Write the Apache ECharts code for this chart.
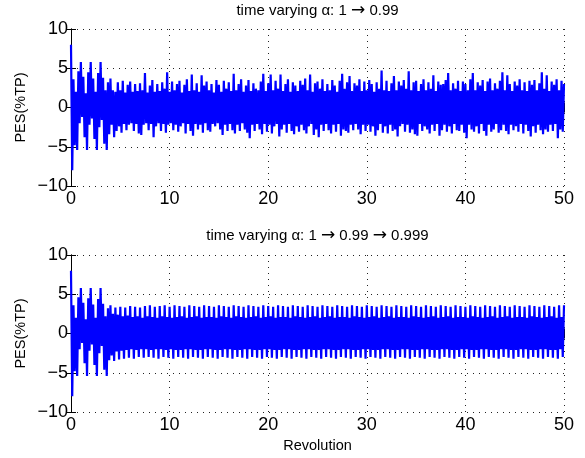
<!DOCTYPE html>
<html>
<head>
<meta charset="utf-8">
<script src="https://cdn.jsdelivr.net/npm/echarts@6/dist/echarts.min.js"></script>
<style>html,body{margin:0;padding:0;background:#fff}#c{width:585px;height:458px}</style>
</head>
<body>
<div id="c"></div>
<script>
// Sample step (revolutions) between successive upper peaks; lower peaks sit half a step later
const STEP = 0.25;
const xTicks = [0, 10, 20, 30, 40, 50];
const yTicks = [-10, -5, 0, 5, 10];
const titleParts = [['time varying \u03b1: 1 ', ' 0.99'], ['time varying \u03b1: 1 ', ' 0.99 ', ' 0.999']];
const yLabel = 'PES(%TP)';
const xLabel = 'Revolution';

// Top panel: upper peaks (t = 0, 0.25, ... 50)
const topHi = [
 8.0,3.6,2.0,4.6, 5.8,3.9,1.8,4.5, 5.8,3.7,2.0,4.4, 5.8,3.8,2.2,3.2,
 3.7,2.2,2.0,3.2, 2.2,3.4,1.9,2.9, 3.3,2.0,3.0,2.1, 3.1,2.2,4.4,1.9,
 2.8,3.5,2.0,3.0, 2.1,3.2,2.4,4.5, 2.0,3.3,2.2,3.0, 3.4,1.9,2.9,3.6,
 2.1,4.2,2.2,3.1, 2.0,4.1,2.8,3.3, 2.2,3.0,1.9,3.5, 2.9,2.0,3.4,2.4,
 3.2,2.1,4.3,2.2, 3.0,3.6,2.0,2.8, 3.5,2.1,3.1,2.4, 2.2,3.3,4.3,2.1,
 3.1,4.2,2.2,3.4, 2.4,4.2,2.1,3.0, 3.6,2.0,3.2,2.8, 2.1,3.4,2.9,3.7,
 2.2,4.2,2.0,3.1, 3.3,2.4,3.6,2.1, 3.0,2.2,3.5,2.8, 2.0,3.4,4.3,2.4,
 3.2,4.0,2.1,3.1, 2.8,3.6,2.1,3.3, 2.2,3.5,3.0,2.0, 3.2,2.4,4.7,2.2,
 3.4,2.1,3.1,4.0, 2.2,3.3,2.8,3.5, 2.4,4.6,2.2,3.2, 3.4,2.1,3.0,3.6,
 2.2,3.2,2.4,4.1, 2.1,3.3,2.9,3.0, 3.5,4.4,2.2,3.1, 2.4,3.4,2.1,3.3,
 3.0,2.2,3.6,4.4, 2.2,3.2,2.8,3.5, 2.1,3.3,3.7,2.2, 3.1,2.4,3.4,4.5,
 2.2,4.1,3.0,2.1, 3.3,2.8,3.6,2.2, 3.2,2.1,3.4,2.9, 3.5,2.2,3.1,4.5,
 2.4,4.1,2.1,3.3, 2.9,3.6,2.2,3.4, 3.0
];
// Top panel: lower peaks (t = 0.125, 0.375, ... 49.875)
const topLo = [
 -8.0,-4.8,-5.4,-2.0, -1.2,-3.8,-5.4,-2.2, -1.4,-4.0,-5.4,-2.5, -1.6,-4.6,-5.4,-3.4,
 -2.2,-3.8,-3.0,-2.4, -3.2,-2.1,-2.9,-2.2, -2.0,-3.0,-2.1,-3.3, -3.5,-2.2,-2.0,-2.9,
 -2.1,-3.8,-2.4,-2.0, -3.0,-2.1,-3.2,-2.2, -2.0,-2.9,-2.2,-3.1, -2.4,-2.0,-3.3,-2.1,
 -3.0,-3.6,-2.1,-2.8, -2.2,-3.2,-2.0,-2.9, -3.1,-2.1,-2.4,-2.0, -2.8,-3.5,-2.2,-3.0,
 -2.1,-2.9,-3.3,-2.2, -3.0,-2.0,-2.8,-3.2, -3.9,-2.2,-3.0,-2.1, -2.8,-3.4,-2.1,-3.1,
 -2.2,-3.3,-2.4,-2.1, -3.7,-2.8,-2.2,-3.2, -2.1,-3.0,-3.4,-2.4, -3.1,-2.2,-2.9,-3.3,
 -2.4,-2.1,-3.5,-2.8, -3.8,-2.2,-3.0,-2.1, -2.9,-3.3,-2.2,-3.1, -2.1,-3.6,-2.8,-3.0,
 -3.2,-2.2,-2.9,-2.1, -2.8,-3.4,-2.2,-3.0, -2.2,-3.1,-2.4,-3.6, -2.9,-2.1,-3.2,-2.4,
 -3.3,-2.2,-3.0,-2.8, -3.7,-2.4,-2.1,-3.1, -2.2,-3.2,-2.8,-3.4, -3.6,-2.1,-3.0,-2.4,
 -2.8,-3.3,-2.2,-3.0, -2.1,-3.6,-2.9,-2.2, -3.1,-2.4,-3.3,-2.1, -2.9,-3.0,-2.2,-3.2,
 -3.9,-2.2,-2.8,-3.1, -2.4,-3.3,-2.1,-3.0, -3.6,-2.2,-3.1,-2.8, -2.1,-3.2,-2.9,-2.2,
 -3.0,-3.4,-2.2,-2.9, -2.4,-3.1,-2.1,-3.3, -2.2,-3.0,-3.7,-2.4, -3.2,-2.2,-2.9,-3.4,
 -2.8,-3.1,-2.2,-3.0, -2.1,-3.9,-2.8,-3.1
];
// Bottom panel: upper peaks (t = 0, 0.25, ... 50)
const botHi = [
 8.0,3.6,2.0,4.6, 5.8,3.9,1.8,4.5, 5.8,3.7,2.0,4.4, 5.8,3.8,2.2,3.2,
 3.6,2.5,3.3,2.4, 3.4,2.2,3.3,2.3, 3.5,2.1,3.4,2.2, 3.3,2.0,3.5,2.2,
 3.6,2.1,3.4,2.0, 3.5,2.2,3.6,2.1, 3.4,2.0,3.6,2.1, 3.5,2.2,3.4,2.0,
 3.6,2.1,3.5,2.2, 3.4,2.0,3.6,2.1, 3.5,2.1,3.4,2.0, 3.6,2.2,3.5,2.1,
 3.4,2.0,3.6,2.2, 3.5,2.1,3.4,2.0, 3.6,2.1,3.5,2.2, 3.4,2.0,3.6,2.1,
 3.5,2.2,3.4,2.0, 3.6,2.1,3.5,2.1, 3.4,2.0,3.6,2.2, 3.5,2.1,3.4,2.0,
 3.6,2.1,3.5,2.2, 3.4,2.0,3.6,2.1, 3.5,2.2,3.4,2.0, 3.6,2.1,3.5,2.1,
 3.4,2.0,3.6,2.2, 3.5,2.1,3.4,2.0, 3.6,2.1,3.5,2.2, 3.4,2.0,3.6,2.1,
 3.5,2.2,3.4,2.0, 3.6,2.1,3.5,2.1, 3.4,2.0,3.6,2.2, 3.5,2.1,3.4,2.0,
 3.6,2.1,3.5,2.2, 3.4,2.0,3.6,2.1, 3.5,2.2,3.4,2.0, 3.6,2.1,3.5,2.1,
 3.4,2.0,3.6,2.2, 3.5,2.1,3.4,2.0, 3.6,2.1,3.5,2.2, 3.4,2.0,3.6,2.1,
 3.5,2.2,3.4,2.0, 3.6,2.1,3.5,2.1, 3.4,2.0,3.6,2.2, 3.5,2.1,3.4,2.0,
 3.6,2.1,3.5,2.2, 3.4,2.0,3.6,2.1, 3.6
];
// Bottom panel: lower peaks (t = 0.125, 0.375, ... 49.875)
const botLo = [
 -8.0,-4.8,-5.4,-2.0, -1.2,-3.8,-5.4,-2.2, -1.4,-4.0,-5.4,-2.5, -1.6,-4.6,-5.4,-3.4,
 -2.8,-3.5,-2.3,-3.3, -2.2,-3.2,-2.1,-3.1, -2.0,-3.2,-2.1,-3.0, -2.0,-3.1,-2.0,-3.0,
 -2.1,-3.1,-2.0,-3.2, -2.0,-3.0,-2.1,-3.1, -2.0,-3.2,-2.1,-3.0, -2.1,-3.1,-2.0,-3.2,
 -2.0,-3.0,-2.1,-3.1, -2.1,-3.2,-2.0,-3.0, -2.0,-3.1,-2.1,-3.2, -2.1,-3.0,-2.0,-3.1,
 -2.0,-3.2,-2.1,-3.0, -2.1,-3.1,-2.0,-3.2, -2.0,-3.0,-2.1,-3.1, -2.1,-3.2,-2.0,-3.0,
 -2.0,-3.1,-2.1,-3.2, -2.1,-3.0,-2.0,-3.1, -2.0,-3.2,-2.1,-3.0, -2.1,-3.1,-2.0,-3.2,
 -2.0,-3.0,-2.1,-3.1, -2.1,-3.2,-2.0,-3.0, -2.0,-3.1,-2.1,-3.2, -2.1,-3.0,-2.0,-3.1,
 -2.0,-3.2,-2.1,-3.0, -2.1,-3.1,-2.0,-3.2, -2.0,-3.0,-2.1,-3.1, -2.1,-3.2,-2.0,-3.0,
 -2.0,-3.1,-2.1,-3.2, -2.1,-3.0,-2.0,-3.1, -2.0,-3.2,-2.1,-3.0, -2.1,-3.1,-2.0,-3.2,
 -2.0,-3.0,-2.1,-3.1, -2.1,-3.2,-2.0,-3.0, -2.0,-3.1,-2.1,-3.2, -2.1,-3.0,-2.0,-3.1,
 -2.0,-3.2,-2.1,-3.0, -2.1,-3.1,-2.0,-3.2, -2.0,-3.0,-2.1,-3.1, -2.1,-3.2,-2.0,-3.0,
 -2.0,-3.1,-2.1,-3.2, -2.1,-3.0,-2.0,-3.1, -2.0,-3.2,-2.1,-3.0, -2.1,-3.1,-2.0,-3.2,
 -2.0,-3.0,-2.1,-3.1, -2.1,-3.2,-2.0,-3.0
];

function build(hi, lo) {
  const out = [];
  for (let i = 0; i < hi.length; i++) {
    out.push([i * STEP, hi[i]]);
    if (i < lo.length) out.push([i * STEP + STEP / 2, lo[i]]);
  }
  return out;
}

const FONT = 'Liberation Sans, Arial, Helvetica, sans-serif';
const chart = echarts.init(document.getElementById('c'), null, {renderer: 'canvas'});
const grids = [
  {left: 71, top: 29, width: 493, height: 157},
  {left: 71, top: 255, width: 493, height: 157}
];
const tickStyle = {show: true, inside: true, length: 5, lineStyle: {color: '#000', width: 1}};
const lineStyle = {show: true, lineStyle: {color: '#000', width: 1}};
const gridLine = {show: true, lineStyle: {color: '#222', width: 1, type: [1, 5]}};
const xAxes = [], yAxes = [];
grids.forEach((g, k) => {
  xAxes.push({type: 'value', gridIndex: k, min: xTicks[0], max: xTicks[xTicks.length - 1], interval: 10, position: 'bottom',
    axisLine: lineStyle, axisTick: tickStyle, splitLine: gridLine,
    axisLabel: {color: '#000', fontSize: 18, fontFamily: FONT, margin: 4}});
  xAxes.push({type: 'value', gridIndex: k, min: 0, max: 50, interval: 10, position: 'top',
    axisLine: lineStyle, axisTick: tickStyle, splitLine: {show: false}, axisLabel: {show: false}});
  yAxes.push({type: 'value', gridIndex: k, min: yTicks[0], max: yTicks[yTicks.length - 1], interval: 5, position: 'left',
    axisLine: lineStyle, axisTick: tickStyle, splitLine: gridLine,
    axisLabel: {color: '#000', fontSize: 18, fontFamily: FONT, margin: 3,
      formatter: v => String(v).replace('-', '\u2212')}});
  yAxes.push({type: 'value', gridIndex: k, min: -10, max: 10, interval: 5, position: 'right',
    axisLine: lineStyle, axisTick: tickStyle, splitLine: {show: false}, axisLabel: {show: false}});
});
const series = [
  {type: 'line', xAxisIndex: 0, yAxisIndex: 0, data: build(topHi, topLo)},
  {type: 'line', xAxisIndex: 2, yAxisIndex: 2, data: build(botHi, botLo)}
].map(s => Object.assign(s, {showSymbol: false, symbol: 'none', silent: true, z: 1,
  lineStyle: {color: '#0000ff', width: 2.2}}));

const richStyle = {
  t: {fontSize: 15, fontFamily: FONT, fill: '#000'},
  a: {fontSize: 17, fontFamily: 'DejaVu Sans', fill: '#000'}
};
function titleText(parts) {
  return parts.map(p => '{t|' + p + '}').join('{a|\u2192}');
}
const txt = (text, x, y, rot, size) => ({type: 'text', x, y, rotation: rot || 0,
  style: {text, fill: '#000', font: (size || 15) + 'px ' + FONT, textAlign: 'center', textVerticalAlign: 'middle'}});
const ttl = (parts, x, y) => ({type: 'text', x, y,
  style: {text: titleText(parts), rich: richStyle, fill: '#000', font: '15px ' + FONT, textAlign: 'center', textVerticalAlign: 'middle'}});

chart.setOption({
  animation: false,
  grid: grids,
  xAxis: xAxes,
  yAxis: yAxes,
  series,
  graphic: [
    ttl(titleParts[0], 317.5, 11),
    ttl(titleParts[1], 317.5, 236),
    txt(yLabel, 21, 107.5, Math.PI / 2, 14.5),
    txt(yLabel, 21, 333.5, Math.PI / 2, 14.5),
    txt(xLabel, 317.5, 446, 0, 14.5)
  ]
});
</script>
</body>
</html>
